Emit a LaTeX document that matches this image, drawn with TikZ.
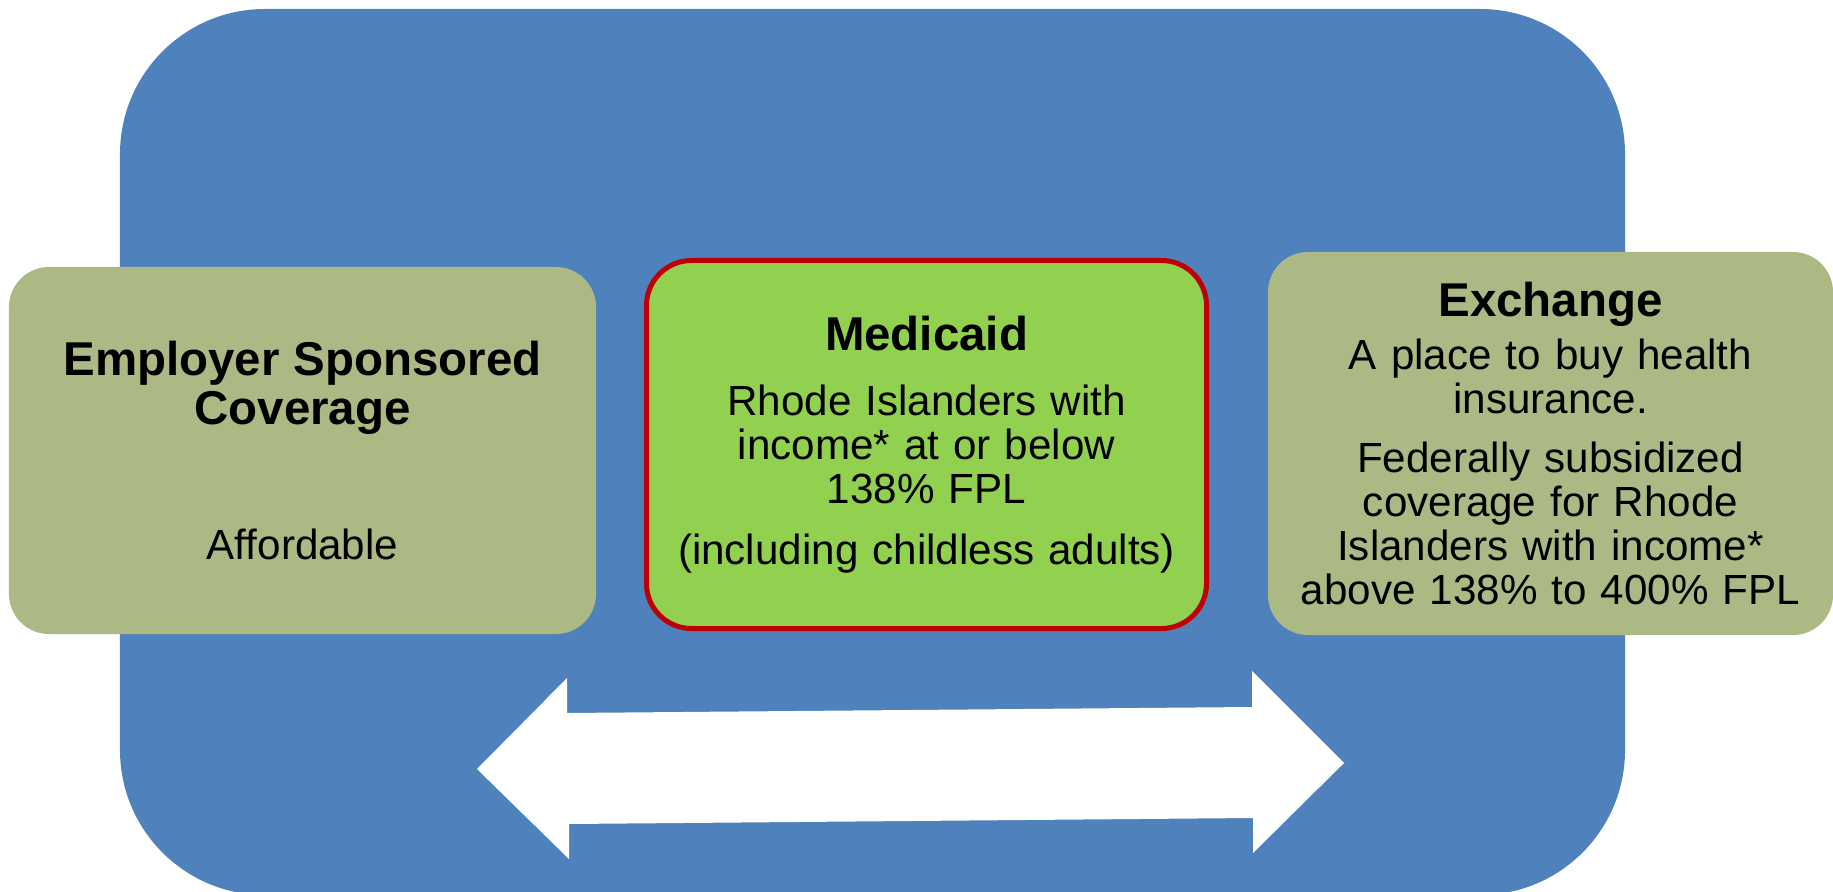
\documentclass[tikz,border=0pt]{standalone}
\usepackage{fontspec}
\setmainfont{Liberation Sans}
\usetikzlibrary{positioning}
\definecolor{Frame}{HTML}{4F81BD}
\definecolor{Olive}{HTML}{ACB984}
\definecolor{Leaf}{HTML}{92D050}
\definecolor{Brick}{HTML}{C00000}
\newcommand{\ttl}{\bfseries\fontsize{27}{28}\selectfont}
\newcommand{\bdy}{\mdseries\fontsize{24}{25}\selectfont}

\begin{document}
\begin{tikzpicture}[x=0.2mm,y=-0.2mm,
  frame/.style={fill=Frame,rounded corners=29mm,minimum width=301mm,minimum height=177.2mm,inner sep=0pt},
  plan/.style={fill=Olive,rounded corners=8mm,inner sep=0pt,align=center,font=\bdy}]
  \useasboundingbox (0,0) rectangle (1833,892);
  \node[frame] (pool) at (872.5,452) {};
  \node[plan,minimum width=117.4mm,minimum height=73.4mm,text width=112mm] (employer) at (302.5,450.5)
    {\ttl Employer Sponsored\\Coverage\\[52pt]\bdy Affordable};
  \node[plan,fill=Leaf,draw=Brick,line width=1mm,rounded corners=9mm,minimum width=112mm,minimum height=73.6mm,text width=108mm] (medicaid) at (926.5,444.5)
    {\ttl Medicaid\\[12pt]\bdy Rhode Islanders with\\income* at or below\\138\% FPL\\[10pt](including childless adults)};
  \node[plan,minimum width=113mm,minimum height=76.6mm,text width=110mm] (exchange) at (1550.5,443.5)
    {\ttl Exchange\\[5pt]\bdy A place to buy health\\insurance.\\[9pt]Federally subsidized\\coverage for Rhode\\Islanders with income*\\above 138\% to 400\% FPL};
  % two-way arrow under the boxes
  \fill[white] (477,769) -- (567,678) -- (567,713) -- (1252,707) -- (1252,671) -- (1344,763)
    -- (1253,853) -- (1253,818) -- (569,824) -- (569,859) -- cycle;
\end{tikzpicture}
\end{document}
